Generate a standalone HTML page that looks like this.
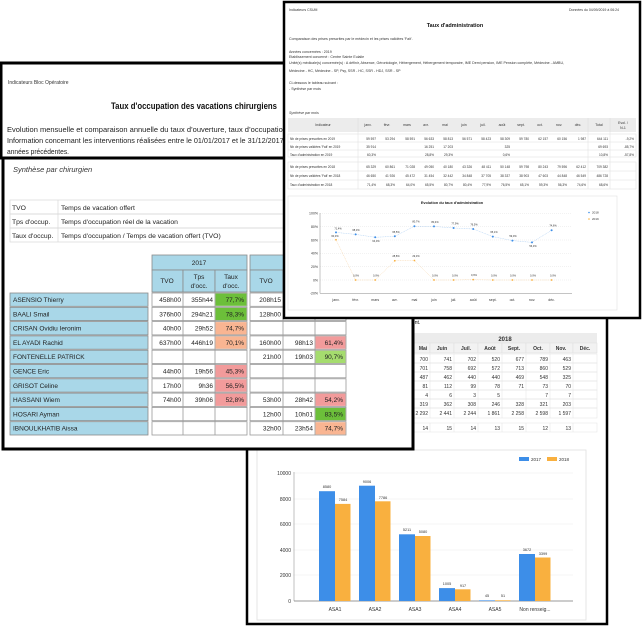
<!DOCTYPE html>
<html><head><meta charset="utf-8"><style>
html,body{margin:0;padding:0;background:#fff;width:642px;height:626px;overflow:hidden}
svg{display:block;font-family:"Liberation Sans",sans-serif}
</style></head><body>
<svg width="642" height="626" viewBox="0 0 642 626" xmlns="http://www.w3.org/2000/svg">
<rect width="642" height="626" fill="#fff"/>

<!-- ============ DOC 3 (bottom right) ============ -->
<g>
<rect x="247" y="300" width="360" height="324" fill="#fff" stroke="#000" stroke-width="2.5"/>
<text x="412" y="324" font-size="5">ent.</text>
<rect x="413" y="333" width="184" height="10" fill="#ececec"/>
<text x="505" y="341" font-size="6" font-weight="bold" text-anchor="middle" fill="#333">2018</text>
<g fill="#f2f2f2" stroke="#ddd" stroke-width="0.5">
<rect x="413" y="343" width="17" height="10"/><rect x="430" y="343" width="24" height="10"/><rect x="454" y="343" width="24" height="10"/><rect x="478" y="343" width="24" height="10"/><rect x="502" y="343" width="24" height="10"/><rect x="526" y="343" width="24" height="10"/><rect x="550" y="343" width="23" height="10"/><rect x="573" y="343" width="24" height="10"/>
</g>
<g font-size="5" font-weight="bold" text-anchor="middle" fill="#333">
<text x="423" y="350">Mai</text><text x="442" y="350">Juin</text><text x="466" y="350">Juil.</text><text x="490" y="350">Août</text><text x="514" y="350">Sept.</text><text x="538" y="350">Oct.</text><text x="561" y="350">Nov.</text><text x="585" y="350">Déc.</text>
</g>
<g stroke="#e2e2e2" stroke-width="0.5" fill="none">
<rect x="413" y="354" width="184" height="9"/><rect x="413" y="363" width="184" height="9"/><rect x="413" y="372" width="184" height="9"/><rect x="413" y="381" width="184" height="9"/><rect x="413" y="390" width="184" height="9"/><rect x="413" y="399" width="184" height="9"/><rect x="413" y="408" width="184" height="10"/><rect x="413" y="423" width="184" height="9"/>
<line x1="430" y1="354" x2="430" y2="418"/><line x1="454" y1="354" x2="454" y2="418"/><line x1="478" y1="354" x2="478" y2="418"/><line x1="502" y1="354" x2="502" y2="418"/><line x1="526" y1="354" x2="526" y2="418"/><line x1="550" y1="354" x2="550" y2="418"/><line x1="573" y1="354" x2="573" y2="418"/>
<line x1="430" y1="423" x2="430" y2="432"/><line x1="454" y1="423" x2="454" y2="432"/><line x1="478" y1="423" x2="478" y2="432"/><line x1="502" y1="423" x2="502" y2="432"/><line x1="526" y1="423" x2="526" y2="432"/><line x1="550" y1="423" x2="550" y2="432"/><line x1="573" y1="423" x2="573" y2="432"/>
</g>
<g font-size="5" text-anchor="end" fill="#333">
<text x="428" y="361">700</text><text x="452" y="361">741</text><text x="476" y="361">702</text><text x="500" y="361">520</text><text x="524" y="361">677</text><text x="548" y="361">789</text><text x="571" y="361">463</text>
<text x="428" y="370">701</text><text x="452" y="370">758</text><text x="476" y="370">692</text><text x="500" y="370">572</text><text x="524" y="370">713</text><text x="548" y="370">860</text><text x="571" y="370">529</text>
<text x="428" y="379">487</text><text x="452" y="379">462</text><text x="476" y="379">440</text><text x="500" y="379">440</text><text x="524" y="379">469</text><text x="548" y="379">548</text><text x="571" y="379">325</text>
<text x="428" y="388">81</text><text x="452" y="388">112</text><text x="476" y="388">99</text><text x="500" y="388">78</text><text x="524" y="388">71</text><text x="548" y="388">73</text><text x="571" y="388">70</text>
<text x="428" y="397">4</text><text x="452" y="397">6</text><text x="476" y="397">3</text><text x="500" y="397">5</text><text x="548" y="397">7</text><text x="571" y="397">7</text>
<text x="428" y="406">319</text><text x="452" y="406">362</text><text x="476" y="406">308</text><text x="500" y="406">246</text><text x="524" y="406">328</text><text x="548" y="406">321</text><text x="571" y="406">203</text>
<text x="428" y="415">2 292</text><text x="452" y="415">2 441</text><text x="476" y="415">2 244</text><text x="500" y="415">1 861</text><text x="524" y="415">2 258</text><text x="548" y="415">2 598</text><text x="571" y="415">1 597</text>
<text x="428" y="430">14</text><text x="452" y="430">15</text><text x="476" y="430">14</text><text x="500" y="430">13</text><text x="524" y="430">15</text><text x="548" y="430">12</text><text x="571" y="430">13</text>
</g>
<!-- bar chart -->
<rect x="257" y="450" width="329" height="170" fill="#fff" stroke="#e0e0e0" stroke-width="0.8"/>
<g stroke="#ececec" stroke-width="0.6">
<line x1="293" y1="473" x2="573" y2="473"/><line x1="293" y1="499" x2="573" y2="499"/><line x1="293" y1="524" x2="573" y2="524"/><line x1="293" y1="550" x2="573" y2="550"/><line x1="293" y1="575" x2="573" y2="575"/>
</g>
<line x1="294" y1="472" x2="294" y2="601" stroke="#999" stroke-width="0.6"/>
<line x1="294" y1="601" x2="573" y2="601" stroke="#777" stroke-width="0.8"/>
<g font-size="5" text-anchor="end" fill="#333">
<text x="291" y="475">10000</text><text x="291" y="501">8000</text><text x="291" y="526">6000</text><text x="291" y="552">4000</text><text x="291" y="577">2000</text><text x="291" y="603">0</text>
</g>
<rect x="519" y="457" width="10" height="4" fill="#3d8ee8"/><text x="531" y="461" font-size="4.5" fill="#333">2017</text>
<rect x="547" y="457" width="10" height="4" fill="#f9b03f"/><text x="559" y="461" font-size="4.5" fill="#333">2018</text>
<g fill="#3d8ee8">
<rect x="319" y="491.2" width="16" height="109.8"/><rect x="359" y="485.7" width="16" height="115.3"/><rect x="399" y="534.3" width="16" height="66.7"/><rect x="439" y="588.1" width="16" height="12.9"/><rect x="479" y="600.4" width="16" height="0.6"/><rect x="519" y="554" width="16" height="47"/>
</g>
<g fill="#f9b03f">
<rect x="335" y="503.9" width="15.5" height="97.1"/><rect x="375" y="501.3" width="15.5" height="99.7"/><rect x="415" y="536" width="15.5" height="65"/><rect x="455" y="589.3" width="15.5" height="11.7"/><rect x="495" y="600.3" width="15.5" height="0.7"/><rect x="535" y="557.5" width="15.5" height="43.5"/>
</g>
<g font-size="3.8" text-anchor="middle" fill="#333">
<text x="327" y="488">8580</text><text x="343" y="501">7584</text><text x="367" y="483">9006</text><text x="383" y="499">7786</text><text x="407" y="531">5211</text><text x="423" y="533">5080</text><text x="447" y="585">1005</text><text x="463" y="587">917</text><text x="487" y="597">45</text><text x="503" y="597">51</text><text x="527" y="551">3672</text><text x="543" y="555">3399</text>
</g>
<g font-size="5" text-anchor="middle" fill="#333">
<text x="335" y="611">ASA1</text><text x="375" y="611">ASA2</text><text x="415" y="611">ASA3</text><text x="455" y="611">ASA4</text><text x="495" y="611">ASA5</text><text x="535" y="611">Non renseig...</text>
</g>
</g>

<!-- ============ DOC 1 (left) ============ -->
<g>
<rect x="3" y="157" width="410" height="292" fill="#fff" stroke="#000" stroke-width="3"/>
<text x="13" y="172" font-size="7.5" font-style="italic" fill="#333">Synthèse par chirurgien</text>
<g stroke="#d8d8d8" stroke-width="0.7" fill="none">
<rect x="10" y="200" width="300" height="14"/><rect x="10" y="214" width="300" height="14"/><rect x="10" y="228" width="300" height="14"/>
<line x1="58" y1="200" x2="58" y2="242"/>
</g>
<g font-size="6.8" fill="#222">
<text x="12" y="210">TVO</text><text x="61" y="210">Temps de vacation offert</text>
<text x="12" y="224">Tps d'occup.</text><text x="61" y="224">Temps d'occupation réel de la vacation</text>
<text x="12" y="238">Taux d'occup.</text><text x="61" y="238">Temps d'occupation / Temps de vacation offert (TVO)</text>
</g>
<g fill="#a9d7e8" stroke="#8a8a8a" stroke-width="0.8">
<rect x="152" y="255" width="95" height="15"/>
<rect x="152" y="270" width="31" height="22"/><rect x="183" y="270" width="32" height="22"/><rect x="215" y="270" width="32" height="22"/>
<rect x="250" y="255" width="96" height="15"/>
<rect x="250" y="270" width="33" height="22"/><rect x="283" y="270" width="32" height="22"/><rect x="315" y="270" width="31" height="22"/>
</g>
<g font-size="6.5" text-anchor="middle" fill="#222">
<text x="199" y="265">2017</text><text x="298" y="265">2018</text>
<text x="167" y="283">TVO</text><text x="199" y="279">Tps</text><text x="199" y="288">d'occ.</text><text x="231" y="279">Taux</text><text x="231" y="288">d'occ.</text>
<text x="266" y="283">TVO</text>
</g>
<g fill="#a9d7e8" stroke="#8a8a8a" stroke-width="0.8">
<rect x="10" y="293" width="138" height="13.3"/><rect x="10" y="307.3" width="138" height="13.3"/><rect x="10" y="321.6" width="138" height="13.3"/><rect x="10" y="335.9" width="138" height="13.3"/><rect x="10" y="350.2" width="138" height="13.3"/><rect x="10" y="364.5" width="138" height="13.3"/><rect x="10" y="378.8" width="138" height="13.3"/><rect x="10" y="393.1" width="138" height="13.3"/><rect x="10" y="407.4" width="138" height="13.3"/><rect x="10" y="421.7" width="138" height="13.3"/>
</g>
<g fill="#fff" stroke="#9a9a9a" stroke-width="0.8">
<rect x="152" y="293" width="95" height="13.3"/><rect x="152" y="307.3" width="95" height="13.3"/><rect x="152" y="321.6" width="95" height="13.3"/><rect x="152" y="335.9" width="95" height="13.3"/><rect x="152" y="350.2" width="95" height="13.3"/><rect x="152" y="364.5" width="95" height="13.3"/><rect x="152" y="378.8" width="95" height="13.3"/><rect x="152" y="393.1" width="95" height="13.3"/><rect x="152" y="407.4" width="95" height="13.3"/><rect x="152" y="421.7" width="95" height="13.3"/>
<rect x="250" y="293" width="96" height="13.3"/><rect x="250" y="307.3" width="96" height="13.3"/><rect x="250" y="321.6" width="96" height="13.3"/><rect x="250" y="335.9" width="96" height="13.3"/><rect x="250" y="350.2" width="96" height="13.3"/><rect x="250" y="364.5" width="96" height="13.3"/><rect x="250" y="378.8" width="96" height="13.3"/><rect x="250" y="393.1" width="96" height="13.3"/><rect x="250" y="407.4" width="96" height="13.3"/><rect x="250" y="421.7" width="96" height="13.3"/>
</g>
<g stroke="#9a9a9a" stroke-width="0.8">
<line x1="183" y1="293" x2="183" y2="435"/><line x1="215" y1="293" x2="215" y2="435"/>
<line x1="283" y1="293" x2="283" y2="435"/><line x1="315" y1="293" x2="315" y2="435"/>
</g>
<rect x="215.5" y="293.5" width="31" height="12.3" fill="#6cbf3a"/>
<rect x="215.5" y="307.8" width="31" height="12.3" fill="#6cbf3a"/>
<rect x="215.5" y="322.1" width="31" height="12.3" fill="#f9b592"/>
<rect x="215.5" y="336.4" width="31" height="12.3" fill="#f9b592"/>
<rect x="215.5" y="365" width="31" height="12.3" fill="#f29b9b"/>
<rect x="215.5" y="379.3" width="31" height="12.3" fill="#f29b9b"/>
<rect x="215.5" y="393.6" width="31" height="12.3" fill="#f29b9b"/>
<rect x="315.5" y="336.4" width="30" height="12.3" fill="#f29b9b"/>
<rect x="315.5" y="350.7" width="30" height="12.3" fill="#a5dc6e"/>
<rect x="315.5" y="393.6" width="30" height="12.3" fill="#f29b9b"/>
<rect x="315.5" y="407.9" width="30" height="12.3" fill="#6cbf3a"/>
<rect x="315.5" y="422.2" width="30" height="12.3" fill="#f9b592"/>
<g font-size="6.5" fill="#222">
<text x="13" y="302">ASENSIO Thierry</text><text x="13" y="316.3">BAALI Smail</text><text x="13" y="330.6">CRISAN Ovidiu Ieronim</text><text x="13" y="344.9">EL AYADI Rachid</text><text x="13" y="359.2">FONTENELLE PATRICK</text><text x="13" y="373.5">GENCE Eric</text><text x="13" y="387.8">GRISOT Celine</text><text x="13" y="402.1">HASSANI Wiem</text><text x="13" y="416.4">HOSARI Ayman</text><text x="13" y="430.7">IBNOULKHATIB Aissa</text>
</g>
<g font-size="6.5" fill="#222" text-anchor="end">
<text x="181" y="302">458h00</text><text x="213" y="302">355h44</text><text x="244" y="302">77,7%</text><text x="281" y="302">208h15</text>
<text x="181" y="316.3">376h00</text><text x="213" y="316.3">294h21</text><text x="244" y="316.3">78,3%</text><text x="281" y="316.3">128h00</text>
<text x="181" y="330.6">40h00</text><text x="213" y="330.6">29h52</text><text x="244" y="330.6">74,7%</text>
<text x="181" y="344.9">637h00</text><text x="213" y="344.9">446h19</text><text x="244" y="344.9">70,1%</text><text x="281" y="344.9">160h00</text><text x="313" y="344.9">98h13</text><text x="343" y="344.9">61,4%</text>
<text x="281" y="359.2">21h00</text><text x="313" y="359.2">19h03</text><text x="343" y="359.2">90,7%</text>
<text x="181" y="373.5">44h00</text><text x="213" y="373.5">19h56</text><text x="244" y="373.5">45,3%</text>
<text x="181" y="387.8">17h00</text><text x="213" y="387.8">9h36</text><text x="244" y="387.8">56,5%</text>
<text x="181" y="402.1">74h00</text><text x="213" y="402.1">39h06</text><text x="244" y="402.1">52,8%</text><text x="281" y="402.1">53h00</text><text x="313" y="402.1">28h42</text><text x="343" y="402.1">54,2%</text>
<text x="281" y="416.4">12h00</text><text x="313" y="416.4">10h01</text><text x="343" y="416.4">83,5%</text>
<text x="281" y="430.7">32h00</text><text x="313" y="430.7">23h54</text><text x="343" y="430.7">74,7%</text>
</g>
<rect x="1" y="63" width="330" height="95" fill="#fff" stroke="#000" stroke-width="3"/>
<text x="8" y="84" font-size="5" fill="#333">Indicateurs Bloc Opératoire</text>
<text x="111" y="109" font-size="9" font-weight="bold" fill="#111" textLength="166" lengthAdjust="spacingAndGlyphs">Taux d'occupation des vacations chirurgiens</text>
<g font-size="7.3" fill="#222">
<text x="7" y="132" textLength="315" lengthAdjust="spacingAndGlyphs">Evolution mensuelle et comparaison annuelle du taux d’ouverture, taux d’occupation et taux de</text>
<text x="7" y="143" textLength="330" lengthAdjust="spacingAndGlyphs">Information concernant les interventions réalisées entre le 01/01/2017 et le 31/12/2017 en comparaison</text>
<text x="7" y="154" textLength="62" lengthAdjust="spacingAndGlyphs">années précédentes.</text>
</g>
</g>

<!-- ============ DOC 2 (top right) ============ -->
<g>
<rect x="284" y="2" width="356" height="316" fill="#fff" stroke="#000" stroke-width="2.5"/>
<text x="289" y="11" font-size="3.5" fill="#333">Indicateurs CSUM</text>
<text x="619" y="11" font-size="3.5" fill="#333" text-anchor="end">Données du 04/09/2019 à 06:24</text>
<text x="455" y="27" font-size="5.5" font-weight="bold" text-anchor="middle" fill="#111">Taux d'administration</text>
<g font-size="3.6" fill="#333">
<text x="289" y="40">Comparaison des prises prescrites par le médecin et les prises validées 'Fait'.</text>
<text x="289" y="53">Années concernées : 2019</text>
<text x="289" y="58">Etablissement concerné : Centre Sainte Eulalie</text>
<text x="289" y="64">Unité(s) médicale(s) concernée(s) : A définir, Absence, Gérontologie, Hébergement, Hébergement temporaire, IME Demi pension, IME Pension complète, Médecine - AMBU,</text>
<text x="289" y="72">Médecine - HC, Médecine - SP, Psy, SSR - HC, SSR - HDJ, SSR - SP</text>
<text x="289" y="84">Ci-dessous le tableau suivant :</text>
<text x="289" y="90">- Synthèse par mois</text>
<text x="289" y="114" font-style="italic">Synthèse par mois</text>
</g>
<rect x="288" y="118" width="348" height="14" fill="#ececec"/>
<g stroke="#d5d5d5" stroke-width="0.4" fill="none">
<rect x="288" y="134" width="348" height="23"/><rect x="288" y="162" width="348" height="27"/>
<line x1="288" y1="142" x2="636" y2="142"/><line x1="288" y1="150" x2="636" y2="150"/>
<line x1="288" y1="171" x2="636" y2="171"/><line x1="288" y1="180" x2="636" y2="180"/>
<line x1="358" y1="118" x2="358" y2="189"/><line x1="588" y1="118" x2="588" y2="189"/><line x1="610" y1="118" x2="610" y2="189"/>
</g>
<g font-size="3.5" text-anchor="middle" fill="#333">
<text x="323" y="126">Indicateur</text><text x="368" y="126">janv.</text><text x="387" y="126">févr.</text><text x="407" y="126">mars</text><text x="426" y="126">avr.</text><text x="445" y="126">mai</text><text x="464" y="126">juin</text><text x="483" y="126">juil.</text><text x="502" y="126">août</text><text x="521" y="126">sept.</text><text x="540" y="126">oct.</text><text x="559" y="126">nov.</text><text x="578" y="126">déc.</text><text x="599" y="126">Total</text><text x="623" y="124">Evol. /</text><text x="623" y="129">N-1</text>
</g>
<g font-size="3.2" fill="#333">
<text x="290" y="140">Nb de prises prescrites en 2019</text><text x="290" y="148">Nb de prises validées 'Fait' en 2019</text><text x="290" y="156">Taux d'administration en 2019</text>
<text x="290" y="168">Nb de prises prescrites en 2018</text><text x="290" y="177">Nb de prises validées 'Fait' en 2018</text><text x="290" y="186">Taux d'administration en 2018</text>
</g>
<g font-size="3.2" fill="#333" text-anchor="end">
<text x="376" y="140">59 597</text><text x="395" y="140">53 294</text><text x="415" y="140">58 591</text><text x="434" y="140">56 633</text><text x="453" y="140">58 813</text><text x="472" y="140">56 571</text><text x="491" y="140">58 423</text><text x="510" y="140">58 309</text><text x="529" y="140">59 780</text><text x="548" y="140">62 157</text><text x="567" y="140">60 156</text><text x="586" y="140">1 987</text><text x="608" y="140">644 111</text><text x="634" y="140">-9,2%</text>
<text x="376" y="148">35 914</text><text x="434" y="148">16 251</text><text x="453" y="148">17 203</text><text x="510" y="148">325</text><text x="608" y="148">69 693</text><text x="634" y="148">-85,7%</text>
<text x="376" y="156">60,3%</text><text x="434" y="156">28,8%</text><text x="453" y="156">29,3%</text><text x="510" y="156">0,6%</text><text x="608" y="156">10,8%</text><text x="634" y="156">-57,8%</text>
<text x="376" y="168">65 329</text><text x="395" y="168">60 861</text><text x="415" y="168">71 028</text><text x="434" y="168">49 050</text><text x="453" y="168">40 180</text><text x="472" y="168">43 326</text><text x="491" y="168">48 411</text><text x="510" y="168">50 148</text><text x="529" y="168">59 798</text><text x="548" y="168">80 243</text><text x="567" y="168">79 596</text><text x="586" y="168">62 412</text><text x="608" y="168">709 382</text>
<text x="376" y="177">46 650</text><text x="395" y="177">41 926</text><text x="415" y="177">45 472</text><text x="434" y="177">31 454</text><text x="453" y="177">32 442</text><text x="472" y="177">34 848</text><text x="491" y="177">37 705</text><text x="510" y="177">38 337</text><text x="529" y="177">38 903</text><text x="548" y="177">47 603</text><text x="567" y="177">44 848</text><text x="586" y="177">46 549</text><text x="608" y="177">486 728</text>
<text x="376" y="186">71,4%</text><text x="395" y="186">68,3%</text><text x="415" y="186">64,0%</text><text x="434" y="186">65,5%</text><text x="453" y="186">80,7%</text><text x="472" y="186">80,4%</text><text x="491" y="186">77,9%</text><text x="510" y="186">76,5%</text><text x="529" y="186">65,1%</text><text x="548" y="186">59,3%</text><text x="567" y="186">56,3%</text><text x="586" y="186">74,6%</text><text x="608" y="186">68,6%</text>
</g>
<rect x="288" y="196" width="329" height="114" fill="#fff" stroke="#e0e0e0" stroke-width="0.6"/>
<text x="452" y="204" font-size="3.8" font-weight="bold" text-anchor="middle" fill="#222">Evolution du taux d'administration</text>
<g stroke="#dcdcdc" stroke-width="0.4" stroke-dasharray="1,1">
<line x1="320" y1="213.3" x2="572" y2="213.3"/><line x1="320" y1="226.7" x2="572" y2="226.7"/><line x1="320" y1="240" x2="572" y2="240"/><line x1="320" y1="253.3" x2="572" y2="253.3"/><line x1="320" y1="266.7" x2="572" y2="266.7"/><line x1="320" y1="280" x2="572" y2="280"/>
</g>
<line x1="320" y1="213" x2="320" y2="293.3" stroke="#888" stroke-width="0.5"/>
<line x1="320" y1="293.3" x2="572" y2="293.3" stroke="#888" stroke-width="0.5"/>
<g font-size="3.5" text-anchor="end" fill="#333">
<text x="318" y="214.5">100%</text><text x="318" y="228">80%</text><text x="318" y="241.3">60%</text><text x="318" y="254.6">40%</text><text x="318" y="268">20%</text><text x="318" y="281.3">0%</text><text x="318" y="294.6">-20%</text>
</g>
<g font-size="3.5" text-anchor="middle" fill="#333">
<text x="336" y="301">janv.</text><text x="355.6" y="301">févr.</text><text x="375.2" y="301">mars</text><text x="394.8" y="301">avr.</text><text x="414.4" y="301">mai</text><text x="434" y="301">juin</text><text x="453.6" y="301">juil.</text><text x="473.2" y="301">août</text><text x="492.8" y="301">sept.</text><text x="512.4" y="301">oct.</text><text x="532" y="301">nov.</text><text x="551.6" y="301">déc.</text>
</g>
<polyline fill="none" stroke="#a9cdf3" stroke-width="0.5" stroke-dasharray="1,0.7" points="336,232.4 355.6,234.4 375.2,237.3 394.8,236.3 414.4,226.2 434,226.4 453.6,228 473.2,229 492.8,236.6 512.4,240.6 532,242.4 551.6,230.2"/>
<polyline fill="none" stroke="#f8d5a8" stroke-width="0.5" stroke-dasharray="1,0.7" points="336,239.8 355.6,280 375.2,280 394.8,260.8 414.4,260.5 434,280 453.6,280 473.2,279.6 492.8,280 512.4,280 532,280 551.6,280"/>
<g fill="#3d8ee8">
<circle cx="336" cy="232.4" r="1"/><circle cx="355.6" cy="234.4" r="1"/><circle cx="375.2" cy="237.3" r="1"/><circle cx="394.8" cy="236.3" r="1"/><circle cx="414.4" cy="226.2" r="1"/><circle cx="434" cy="226.4" r="1"/><circle cx="453.6" cy="228" r="1"/><circle cx="473.2" cy="229" r="1"/><circle cx="492.8" cy="236.6" r="1"/><circle cx="512.4" cy="240.6" r="1"/><circle cx="532" cy="242.4" r="1"/><circle cx="551.6" cy="230.2" r="1"/>
</g>
<g fill="#f9b03f">
<circle cx="336" cy="239.8" r="0.9"/><circle cx="355.6" cy="280" r="0.9"/><circle cx="375.2" cy="280" r="0.9"/><circle cx="394.8" cy="260.8" r="0.9"/><circle cx="414.4" cy="260.5" r="0.9"/><circle cx="434" cy="280" r="0.9"/><circle cx="453.6" cy="280" r="0.9"/><circle cx="473.2" cy="279.6" r="0.9"/><circle cx="492.8" cy="280" r="0.9"/><circle cx="512.4" cy="280" r="0.9"/><circle cx="532" cy="280" r="0.9"/><circle cx="551.6" cy="280" r="0.9"/>
</g>
<g font-size="2.6" text-anchor="middle" fill="#333">
<text x="338" y="229.5">71,4%</text><text x="356" y="231">68,3%</text><text x="376" y="242">64,0%</text><text x="396" y="233">65,5%</text><text x="416" y="222.5">80,7%</text><text x="435" y="223">80,4%</text><text x="455" y="224.5">77,9%</text><text x="474" y="225.5">76,5%</text><text x="494" y="233">65,1%</text><text x="513" y="237">59,0%</text><text x="533" y="247">56,3%</text><text x="553" y="226.5">74,6%</text>
<text x="335" y="237">60,3%</text><text x="356" y="276.5">0,0%</text><text x="376" y="276.5">0,0%</text><text x="396" y="257">28,8%</text><text x="416" y="257">29,3%</text><text x="435" y="276.5">0,0%</text><text x="455" y="276.5">0,0%</text><text x="474" y="276">0,6%</text><text x="494" y="276.5">0,0%</text><text x="513" y="276.5">0,0%</text><text x="533" y="276.5">0,0%</text><text x="553" y="276.5">0,0%</text>
</g>
<circle cx="589" cy="212.5" r="0.8" fill="#3d8ee8"/><text x="592" y="213.5" font-size="3" fill="#333">2018</text>
<circle cx="589" cy="219" r="0.8" fill="#f9b03f"/><text x="592" y="220" font-size="3" fill="#333">2019</text>
</g>
</svg>
</body></html>
